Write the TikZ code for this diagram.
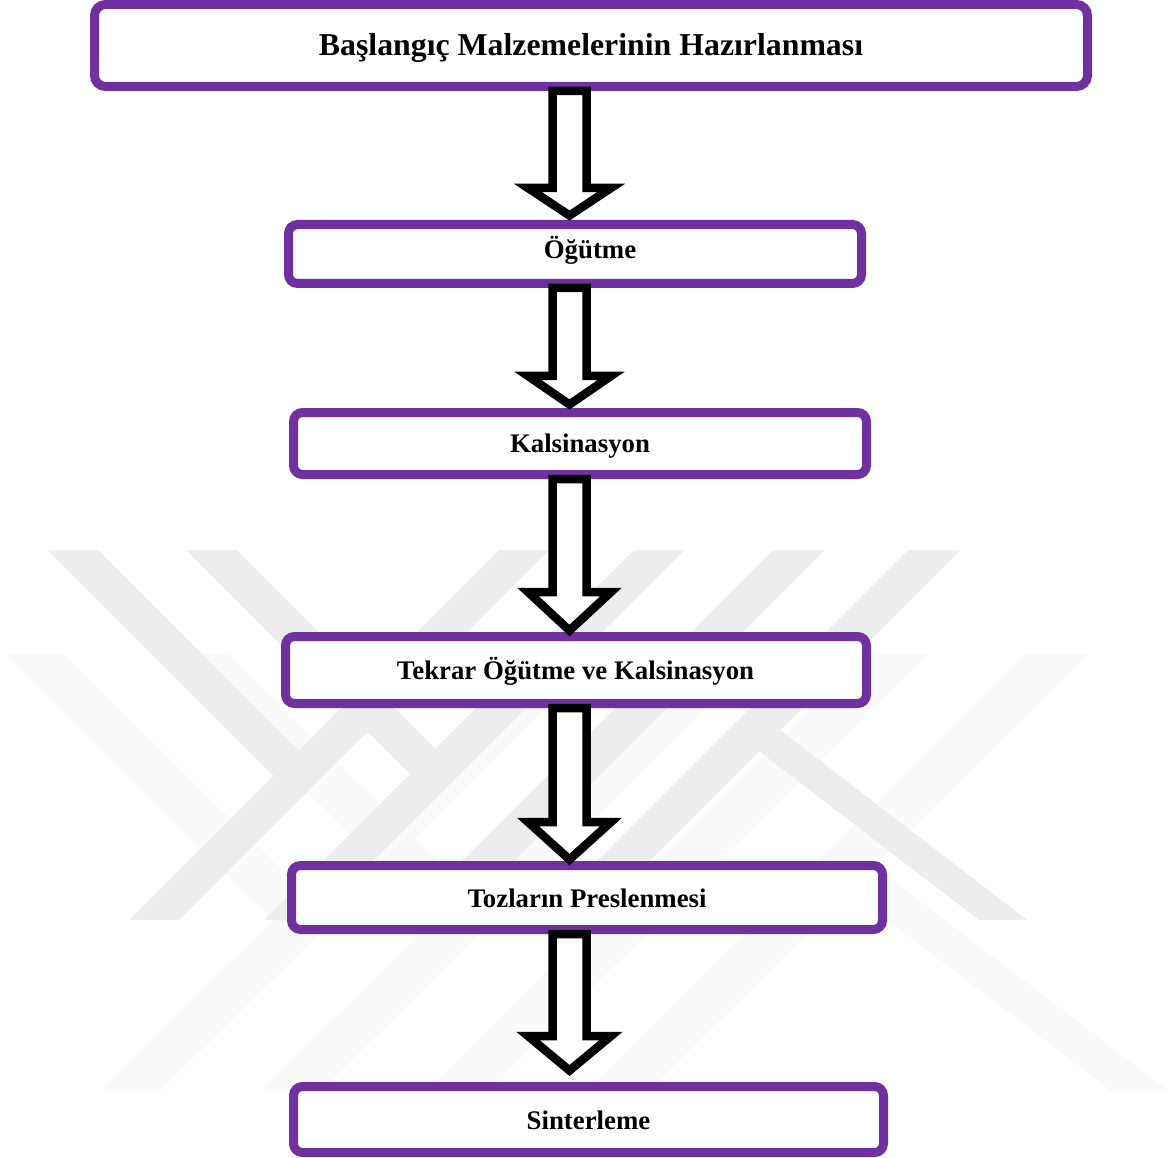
\documentclass[tikz,border=0pt]{standalone}
\usepackage{fontspec}
\setmainfont{Liberation Serif}
\usetikzlibrary{calc}
\definecolor{boxpurple}{RGB}{112,48,160}
\definecolor{wmdark}{RGB}{237,237,237}
\definecolor{wmlight}{RGB}{250,250,250}
\newcommand\yoklogo[1]{%
  \fill[#1] (48,550) -- (98,550) -- (298.5,750.5) -- (273.5,775.5) -- cycle;
  \fill[#1] (186,550) -- (236,550) -- (435,749) -- (410,774) -- cycle;
  \fill[#1] (129,920) -- (179,920) -- (549,550) -- (499,550) -- cycle;
  \fill[#1] (264,920) -- (314,920) -- (684,550) -- (634,550) -- cycle;
  \fill[#1] (403,920) -- (455,920) -- (825,550) -- (773,550) -- cycle;
  \fill[#1] (538,920) -- (590,920) -- (960,550) -- (908,550) -- cycle;
  \fill[#1] (780,730) -- (1027,920) -- (979,920) -- (759,751) -- cycle;
}
% #1 from node, #2 to node, #3 head length, #4 gap between tip and box
\newcommand\blockarr[4]{%
  \draw[blockarrow] let \p1=(#1.south), \p2=(#2.north) in
    (552.5pt,\y1) -- (552.5pt,\y2+#3pt+#4pt) -- (528pt,\y2+#3pt+#4pt)
    -- (569.5pt,\y2+#4pt) -- (611pt,\y2+#3pt+#4pt) -- (586.5pt,\y2+#3pt+#4pt)
    -- (586.5pt,\y1) -- cycle;
}
\tikzset{
  box/.style={draw=boxpurple, line width=9pt, rounded corners=9pt, fill=white, inner sep=0pt},
  lbl/.style={font=\bfseries\fontsize{26.8}{30}\selectfont, anchor=base, inner sep=0pt},
  blockarrow/.style={draw=black, fill=white, line width=8.5pt, miter limit=10, line join=miter}
}
\begin{document}
\begin{tikzpicture}[x=1pt, y=-1pt]
\useasboundingbox (0,0) rectangle (1176,1158);
\fill[white] (0,0) rectangle (1176,1158);
% watermark (light layer, then darker layer)
\begin{scope}[shift={(-52,5)}, xscale=1.188, yscale=1.18]
  \yoklogo{wmlight}
\end{scope}
\yoklogo{wmdark}
% boxes
\node[box, rounded corners=11pt, minimum width=993pt, minimum height=82pt] (b1) at (591,45.5) {};
\node[box, minimum width=573pt, minimum height=59pt] (b2) at (575,254) {};
\node[box, minimum width=573pt, minimum height=62pt] (b3) at (580,443.5) {};
\node[box, minimum width=581pt, minimum height=67pt] (b4) at (576,670) {};
\node[box, minimum width=591pt, minimum height=64pt] (b5) at (587,897.5) {};
\node[box, minimum width=590pt, minimum height=66pt] (b6) at (588.5,1119.5) {};
% labels
\node[lbl, font=\bfseries\fontsize{31.8}{36}\selectfont] (t1) at (591,56) {Başlangıç Malzemelerinin Hazırlanması};
\node[lbl] (t2) at (590,259) {Öğütme};
\node[lbl] (t3) at (580,452) {Kalsinasyon};
\node[lbl] (t4) at (575.5,679.3) {Tekrar Öğütme ve Kalsinasyon};
\node[lbl] (t5) at (587,907) {Tozların Preslenmesi};
\node[lbl] (t6) at (588.5,1129) {Sinterleme};
% block arrows
\blockarr{b1}{b2}{27.5}{4.5}
\blockarr{b2}{b3}{28.5}{3.5}
\blockarr{b3}{b4}{38.5}{1.5}
\blockarr{b4}{b5}{37.5}{1.5}
\blockarr{b5}{b6}{34.5}{11.5}
\end{tikzpicture}
\end{document}
